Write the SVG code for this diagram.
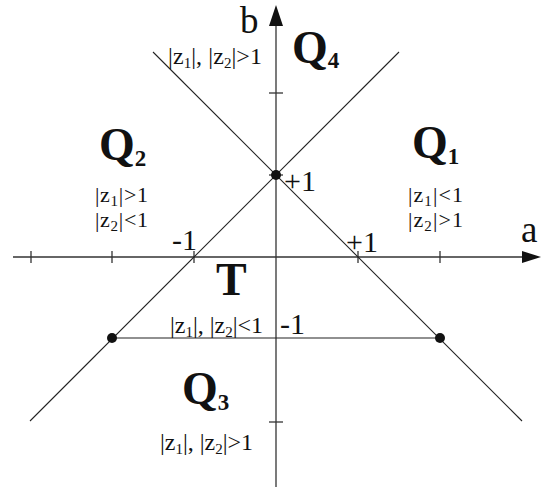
<svg xmlns="http://www.w3.org/2000/svg" width="542" height="494" viewBox="0 0 542 494">
<style>
.ax{stroke:#333;stroke-width:1.3;fill:none}
.ln{stroke:#222;stroke-width:1.1;fill:none}
.t{font-family:"Liberation Serif","Times New Roman",serif;fill:#111}
.q{font-size:46px;font-weight:bold}
.qs{font-size:23px;font-weight:bold}
.lab{font-size:24px}
.lab2{font-size:22px}
.s{font-size:15px}
.num{font-size:30px}
.ax-l{font-size:37px}
</style>
<g id="connectors">
<line class="ax" x1="13" y1="257" x2="524" y2="257"/>
<polygon points="541,257 522,251 522,263" fill="#111"/>
<line class="ax" x1="276" y1="487" x2="276" y2="22"/>
<polygon points="276,5 269,26 283,26" fill="#111"/>
<g class="ax">
<line x1="31" y1="251" x2="31" y2="263"/>
<line x1="112" y1="251" x2="112" y2="263"/>
<line x1="194" y1="251" x2="194" y2="263"/>
<line x1="358" y1="251" x2="358" y2="263"/>
<line x1="440" y1="251" x2="440" y2="263"/>
<line x1="269" y1="93" x2="283" y2="93"/>
<line x1="269" y1="175" x2="283" y2="175"/>
<line x1="269" y1="422" x2="283" y2="422"/>
</g>
<line class="ln" x1="30" y1="421" x2="399" y2="52"/>
<line class="ln" x1="153" y1="52" x2="522" y2="421"/>
<line class="ln" x1="112" y1="338" x2="440" y2="338"/>
</g>
<g id="dots" fill="#111">
<circle cx="276" cy="175" r="5"/>
<circle cx="112" cy="338" r="5"/>
<circle cx="440" cy="338" r="5"/>
</g>
<g id="axis-labels" class="t">
<text class="ax-l" x="240" y="33">b</text>
<text class="ax-l" x="521" y="242">a</text>
<text class="num" x="284" y="191">+1</text>
<text class="num" x="172" y="250">-1</text>
<text class="num" x="346" y="252">+1</text>
<text class="num" x="280" y="334">-1</text>
</g>
<g id="Q4" class="t">
<text x="292" y="63"><tspan class="q">Q</tspan><tspan class="qs" dy="5">4</tspan></text>
<text class="lab" x="168" y="64" textLength="94" lengthAdjust="spacing">|z<tspan class="s" dy="4">1</tspan><tspan dy="-4">|, |z</tspan><tspan class="s" dy="4">2</tspan><tspan dy="-4">|&gt;1</tspan></text>
</g>
<g id="Q2" class="t">
<text x="99" y="160"><tspan class="q">Q</tspan><tspan class="qs" dy="6">2</tspan></text>
<text class="lab2" x="95" y="202" textLength="53" lengthAdjust="spacing">|z<tspan class="s" dy="4">1</tspan><tspan dy="-4">|&gt;1</tspan></text>
<text class="lab2" x="95" y="227" textLength="53" lengthAdjust="spacing">|z<tspan class="s" dy="4">2</tspan><tspan dy="-4">|&lt;1</tspan></text>
</g>
<g id="Q1" class="t">
<text x="412" y="158"><tspan class="q">Q</tspan><tspan class="qs" dy="6">1</tspan></text>
<text class="lab2" x="408" y="202" textLength="55" lengthAdjust="spacing">|z<tspan class="s" dy="4">1</tspan><tspan dy="-4">|&lt;1</tspan></text>
<text class="lab2" x="408" y="227" textLength="55" lengthAdjust="spacing">|z<tspan class="s" dy="4">2</tspan><tspan dy="-4">|&gt;1</tspan></text>
</g>
<g id="T" class="t">
<text class="q" x="216" y="295">T</text>
<text class="lab" x="170" y="333" textLength="93" lengthAdjust="spacing">|z<tspan class="s" dy="4">1</tspan><tspan dy="-4">|, |z</tspan><tspan class="s" dy="4">2</tspan><tspan dy="-4">|&lt;1</tspan></text>
</g>
<g id="Q3" class="t">
<text x="182" y="404"><tspan class="q">Q</tspan><tspan class="qs" dy="6">3</tspan></text>
<text class="lab" x="160" y="450" textLength="93" lengthAdjust="spacing">|z<tspan class="s" dy="4">1</tspan><tspan dy="-4">|, |z</tspan><tspan class="s" dy="4">2</tspan><tspan dy="-4">|&gt;1</tspan></text>
</g>
</svg>
